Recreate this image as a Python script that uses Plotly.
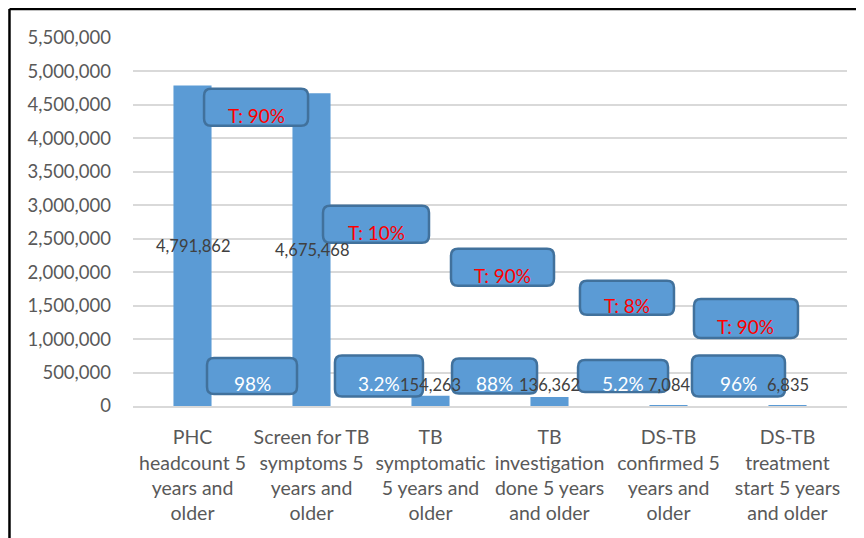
import plotly.graph_objects as go

# ---- data ----
categories = [
    "PHC<br>headcount 5<br>years and<br>older",
    "Screen for TB<br>symptoms 5<br>years and<br>older",
    "TB<br>symptomatic<br>5 years and<br>older",
    "TB<br>investigation<br>done 5 years<br>and older",
    "DS-TB<br>confirmed 5<br>years and<br>older",
    "DS-TB<br>treatment<br>start 5 years<br>and older",
]
values = [4791862, 4675468, 154263, 136362, 7084, 6835]
achieved_labels = ["98%", "3.2%", "88%", "5.2%", "96%"]
target_labels = ["T: 90%", "T: 10%", "T: 90%", "T: 8%", "T: 90%"]
y_ticks = [0, 500000, 1000000, 1500000, 2000000, 2500000, 3000000,
           3500000, 4000000, 4500000, 5000000, 5500000]

# ---- layout helpers (positions / sizes) ----
achieved_box = [  # (x center in category units, y center, width px, height px)
    (0.50, 449000, 90, 36), (1.567, 449000, 88, 41), (2.538, 449000, 85, 35),
    (3.618, 449000, 90, 32), (4.588, 449000, 93, 41)]
target_box = [
    (0.534, 4466000, 104, 37), (1.542, 2716000, 106, 37), (2.605, 2072000, 103, 37),
    (3.651, 1616000, 94, 34), (4.651, 1309000, 104, 39)]

BLUE = "#5B9BD5"
BORDER = "#41719C"
FONT = "Lato, Carlito, 'Open Sans', sans-serif"

x_idx = list(range(len(categories)))

fig = go.Figure()
fig.add_trace(go.Bar(x=x_idx, y=values, marker=dict(color=BLUE, line=dict(width=0)),
                     width=0.32, hoverinfo="skip"))


def rrect(w, h, r=7):
    a, b = w / 2, h / 2
    return (f"M {-a+r},{-b} L {a-r},{-b} Q {a},{-b} {a},{-b+r} L {a},{b-r} "
            f"Q {a},{b} {a-r},{b} L {-a+r},{b} Q {-a},{b} {-a},{b-r} "
            f"L {-a},{-b+r} Q {-a},{-b} {-a+r},{-b} Z")


shapes = []
annotations = []
for (cx, cy, w, h), txt, col in (
        [(b, t, "white") for b, t in zip(achieved_box, achieved_labels)] +
        [(b, t, "#FF0000") for b, t in zip(target_box, target_labels)]):
    shapes.append(dict(type="path", xref="x", yref="y", xsizemode="pixel", ysizemode="pixel",
                       xanchor=cx, yanchor=cy, path=rrect(w, h),
                       fillcolor=BLUE, line=dict(color=BORDER, width=2.5), layer="above"))
    annotations.append(dict(x=cx, y=cy, xref="x", yref="y", text=txt, showarrow=False,
                            yshift=-8, font=dict(family=FONT, size=19, color=col)))

# data labels
for i, v in enumerate(values):
    if v > 1000000:
        annotations.append(dict(x=i, y=v / 2, xref="x", yref="y", text=f"{v:,}",
                                showarrow=False, font=dict(family=FONT, size=16.5, color="#404040")))
    else:
        annotations.append(dict(x=i, y=0, xref="x", yref="y", text=f"{v:,}", yshift=21,
                                showarrow=False, font=dict(family=FONT, size=16.5, color="#404040")))

# outer frame (top and left edges)
shapes.append(dict(type="line", xref="paper", yref="paper", x0=-0.173, x1=1.05,
                   y0=1.0789, y1=1.0789, line=dict(color="black", width=2.5), layer="above"))
shapes.append(dict(type="line", xref="paper", yref="paper", x0=-0.173, x1=-0.173,
                   y0=1.0789, y1=-0.4, line=dict(color="black", width=2.5), layer="above"))

fig.update_layout(
    width=856, height=530,
    margin=dict(l=125, r=17, t=30, b=132),
    paper_bgcolor="white", plot_bgcolor="white",
    showlegend=False,
    shapes=shapes, annotations=annotations,
    font=dict(family=FONT, color="#595959"),
    xaxis=dict(range=[-0.5, 5.5], tickmode="array", tickvals=x_idx, ticktext=categories,
               showgrid=False, zeroline=False, showline=True, linecolor="#D9D9D9", linewidth=1.5,
               tickfont=dict(family=FONT, size=19.5, color="#595959"), ticks="", ticklabelstandoff=13,
               automargin=False, fixedrange=True),
    yaxis=dict(range=[0, 5500000], tickmode="array", tickvals=y_ticks,
               ticktext=[f"{t:,}" for t in y_ticks],
               showgrid=True, gridcolor="#D9D9D9", gridwidth=1.5, zeroline=False,
               showline=False, tickfont=dict(family=FONT, size=18.5, color="#595959"),
               ticks="", ticklabelstandoff=21, automargin=False, fixedrange=True),
)

fig.write_html("out.html")
